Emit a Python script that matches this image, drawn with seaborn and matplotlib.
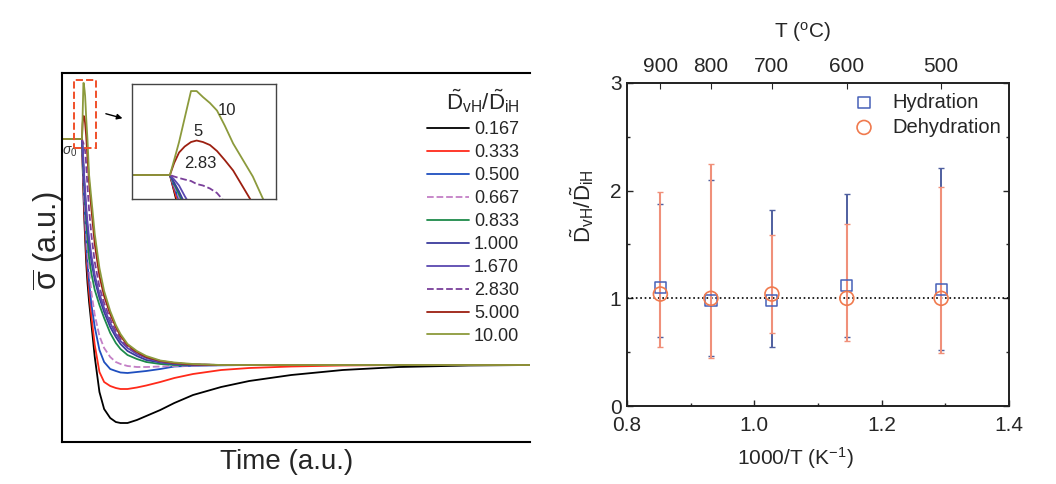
import numpy as np
import pandas as pd
import matplotlib
matplotlib.use("Agg")
import matplotlib.pyplot as plt
import seaborn as sns
from matplotlib.patches import Rectangle

# ---- left panel: simulated conductivity relaxation (arbitrary units) ----
time_au = [0, 4.27, 4.33, 4.40, 4.48, 4.57, 4.65, 4.74, 4.84, 4.94, 5.05, 5.17, 5.31,
           5.45, 5.79, 6.3, 7.0, 8.0, 9.0, 10.3, 11.5, 12.5, 14, 16, 18, 21, 24, 28,
           34, 40, 49, 60, 72, 87, 100]

sig_0167 = [22.6, 22.6, 21.5, 20.2, 18.8, 17.5, 16.2, 15.0, 13.8, 12.7, 11.5, 10.3, 9.2,
            8.2, 6.3, 4.0, 0.8, -2.7, -4.4, -5.3, -5.7, -5.8, -5.8, -5.5, -5.1, -4.5,
            -3.8, -3.0, -2.2, -1.6, -1.0, -0.5, -0.2, -0.05, 0.0]
sig_0333 = [22.6, 22.6, 21.6, 20.5, 19.2, 18.0, 16.8, 15.7, 14.5, 13.5, 12.4, 11.3, 10.2,
            9.3, 7.3, 4.8, 2.0, -0.7, -1.7, -2.1, -2.3, -2.4, -2.4, -2.25, -2.05, -1.7,
            -1.3, -0.9, -0.5, -0.3, -0.15, -0.05, 0.0, 0.0, 0.0]
sig_0500 = [22.6, 22.6, 21.8, 20.9, 19.8, 18.7, 17.6, 16.6, 15.5, 14.5, 13.4, 12.3, 11.2,
            10.2, 8.3, 6.0, 3.8, 1.5, 0.3, -0.4, -0.6, -0.75, -0.8, -0.7, -0.6, -0.4,
            -0.15, -0.08, -0.03, 0.0, 0.0, 0.0, 0.0, 0.0, 0.0]
sig_0667 = [22.6, 22.6, 21.9, 21.1, 20.1, 19.1, 18.1, 17.2, 16.2, 15.3, 14.3, 13.3, 12.2,
            11.3, 9.4, 7.2, 5.0, 2.9, 1.7, 0.8, 0.3, 0.1, -0.1, -0.2, -0.2, -0.15,
            -0.1, -0.05, -0.02, 0.0, 0.0, 0.0, 0.0, 0.0, 0.0]
sig_0833 = [22.6, 22.6, 22.0, 21.3, 20.5, 19.7, 18.9, 18.1, 17.2, 16.4, 15.5, 14.5, 13.5,
            12.7, 10.7, 9.1, 7.5, 6.0, 4.7, 3.2, 2.2, 1.6, 1.0, 0.6, 0.3, 0.1,
            0.0, 0.0, 0.0, 0.0, 0.0, 0.0, 0.0, 0.0, 0.0]
sig_1000 = [22.6, 22.6, 22.1, 21.5, 20.7, 19.9, 19.2, 18.4, 17.6, 16.9, 16.1, 15.3, 14.4,
            13.7, 12.1, 10.3, 8.5, 6.7, 5.3, 3.8, 2.8, 2.1, 1.4, 0.9, 0.5, 0.25,
            0.1, 0.0, 0.0, 0.0, 0.0, 0.0, 0.0, 0.0, 0.0]
sig_1670 = [22.6, 22.6, 22.3, 21.9, 21.2, 20.5, 19.8, 19.0, 18.2, 17.5, 16.7, 15.9, 15.0,
            14.3, 12.7, 10.9, 9.0, 7.1, 5.7, 4.2, 3.1, 2.4, 1.7, 1.1, 0.7, 0.3,
            0.15, 0.05, 0.0, 0.0, 0.0, 0.0, 0.0, 0.0, 0.0]
sig_2830 = [22.6, 22.6, 22.5, 22.4, 22.3, 22.2, 22.0, 21.9, 21.7, 21.4, 20.8, 20.0, 18.9,
            17.8, 15.5, 12.9, 10.3, 7.8, 6.2, 4.6, 3.4, 2.6, 1.8, 1.2, 0.75, 0.4,
            0.2, 0.05, 0.0, 0.0, 0.0, 0.0, 0.0, 0.0, 0.0]
sig_5000 = [22.6, 22.6, 23.4, 24.1, 24.5, 24.8, 24.9, 24.8, 24.6, 24.2, 23.6, 22.9, 21.8,
            20.7, 18.3, 15.5, 12.1, 8.9, 6.9, 5.1, 3.8, 2.9, 2.0, 1.3, 0.8, 0.4,
            0.2, 0.05, 0.0, 0.0, 0.0, 0.0, 0.0, 0.0, 0.0]
sig_1000b = [22.6, 22.6, 23.6, 24.8, 26.4, 28.2, 28.2, 27.8, 27.4, 26.9, 25.9, 24.7, 23.6,
             22.5, 19.0, 16.5, 13.1, 9.7, 7.4, 5.4, 4.0, 3.1, 2.1, 1.4, 0.9, 0.45,
             0.25, 0.1, 0.0, 0.0, 0.0, 0.0, 0.0, 0.0, 0.0]

ratio_labels = ["0.167", "0.333", "0.500", "0.667", "0.833",
                "1.000", "1.670", "2.830", "5.000", "10.00"]
curves = [sig_0167, sig_0333, sig_0500, sig_0667, sig_0833,
          sig_1000, sig_1670, sig_2830, sig_5000, sig_1000b]
line_colors = ["#000000", "#ff2a1a", "#1f4fbf", "#c47fc6", "#1e8a4a",
               "#3a3c9c", "#5b48b0", "#7a3f9a", "#9c1f10", "#8c9a3c"]
line_styles = ["-", "-", "-", "--", "-", "-", "-", "--", "-", "-"]

# ---- right panel: ratio vs inverse temperature ----
temps_c = [900, 800, 700, 600, 500]
hyd = [1.10, 0.98, 0.98, 1.12, 1.08]
hyd_lo = [0.64, 0.46, 0.55, 0.64, 0.52]
hyd_hi = [1.88, 2.10, 1.82, 1.97, 2.21]
dehyd = [1.04, 1.00, 1.04, 1.00, 1.00]
dehyd_lo = [0.545, 0.45, 0.675, 0.60, 0.495]
dehyd_hi = [1.99, 2.25, 1.59, 1.69, 2.03]

sns.set_style("ticks")
plt.rcParams["font.family"] = ["Liberation Sans", "DejaVu Sans"]
plt.rcParams["mathtext.fontset"] = "custom"
plt.rcParams["mathtext.rm"] = "Liberation Sans"
plt.rcParams["mathtext.it"] = "Liberation Sans:italic"
plt.rcParams["mathtext.bf"] = "Liberation Sans:bold"

df = pd.DataFrame({
    "time": np.tile(time_au, len(curves)),
    "sigma": np.concatenate(curves),
    "ratio": np.repeat(ratio_labels, len(time_au)),
})

W, H = 1056, 484
fig = plt.figure(figsize=(W / 100, H / 100), dpi=100)


def px_axes(x0, y0, x1, y1):
    return fig.add_axes([x0 / W, 1 - y1 / H, (x1 - x0) / W, (y1 - y0) / H])


ax = px_axes(62, 73, 530, 442)
ins = px_axes(132, 84, 276, 199)

for target in (ax, ins):
    for lab, col, ls in zip(ratio_labels, line_colors, line_styles):
        sns.lineplot(data=df[df["ratio"] == lab], x="time", y="sigma", ax=target,
                     color=col, linestyle=ls, linewidth=1.3, estimator=None,
                     label=lab if target is ax else None, legend=False)

ax.set_xlim(0, 100)
ax.set_ylim(-7.7, 29.2)
ax.set_xticks([])
ax.set_yticks([])
ax.spines["right"].set_visible(False)
for s in ["left", "top", "bottom"]:
    ax.spines[s].set_linewidth(1.5)
    ax.spines[s].set_color("black")
ax.set_xlabel("Time (a.u.)", fontsize=20)
ax.xaxis.set_label_coords(0.479, -0.018)
ax.set_ylabel(r"$\overline{\mathrm{\sigma}}$ (a.u.)", fontsize=22)
ax.yaxis.set_label_coords(0.008, 0.545)

leg = ax.legend(title=r"$\tilde{\mathrm{D}}_{\mathrm{vH}}/\tilde{\mathrm{D}}_{\mathrm{iH}}$",
                loc="upper right", bbox_to_anchor=(1.012, 1.005), frameon=False,
                fontsize=13, title_fontsize=16, handlelength=2.3, labelspacing=0.33,
                handletextpad=0.3, alignment="right")

# zoom box, arrow and sigma_0 marker
ax.add_patch(Rectangle((2.56, 21.7), 4.7, 6.8, fill=False, ec="#f0502a",
                       ls="--", lw=1.4, zorder=5))
ax.annotate("", xy=(13.5, 24.6), xytext=(8.8, 25.2),
            arrowprops=dict(arrowstyle="-|>", color="black", lw=1, mutation_scale=8))
ax.text(1.7, 21.3, r"$\sigma_0$", fontsize=10, ha="center", va="center", color="#333333")

ins.set_xlim(3.73, 5.78)
ins.set_ylim(21.0, 28.67)
ins.set_xticks([])
ins.set_yticks([])
ins.set_xlabel("")
ins.set_ylabel("")
for s in ins.spines.values():
    s.set_linewidth(1.0)
    s.set_color("#444444")
ins.text(5.08, 26.9, "10", fontsize=12, ha="center", va="center")
ins.text(4.67, 25.5, "5", fontsize=12, ha="center", va="center")
ins.text(4.70, 23.4, "2.83", fontsize=12, ha="center", va="center")

# ---- right panel ----
bx = px_axes(627, 83, 1009, 406)
inv_t = np.array([1000 / (t + 273.15) for t in temps_c])
hyd_a, dehyd_a = np.array(hyd), np.array(dehyd)

bx.axhline(1, color="black", ls=":", lw=1.2, zorder=1)
bx.errorbar(inv_t, hyd_a, yerr=[hyd_a - np.array(hyd_lo), np.array(hyd_hi) - hyd_a],
            fmt="none", ecolor="#4f5f9f", elinewidth=1.4, capsize=2.5, capthick=1, zorder=2)
bx.errorbar(inv_t, dehyd_a, yerr=[dehyd_a - np.array(dehyd_lo), np.array(dehyd_hi) - dehyd_a],
            fmt="none", ecolor="#f0907a", elinewidth=1.5, capsize=2.5, capthick=1, zorder=3)
sns.scatterplot(x=inv_t, y=hyd_a, marker="s", s=65, facecolor="none",
                edgecolor="#4760b8", linewidth=1.1, label="Hydration", ax=bx, zorder=4)
sns.scatterplot(x=inv_t, y=dehyd_a, marker="o", s=100, facecolor="none",
                edgecolor="#f07a4e", linewidth=1.2, label="Dehydration", ax=bx, zorder=5)

bx.set_xlim(0.8, 1.4)
bx.set_ylim(0, 3)
bx.set_xticks([0.8, 1.0, 1.2, 1.4])
bx.set_xticklabels(["0.8", "1.0", "1.2", "1.4"])
bx.set_xticks([0.9, 1.1, 1.3], minor=True)
bx.set_yticks([0, 1, 2, 3])
bx.set_yticks([0.5, 1.5, 2.5], minor=True)
bx.tick_params(which="both", direction="in", top=True, right=True, labelsize=15, width=1)
bx.tick_params(which="major", length=4)
bx.tick_params(which="minor", length=2.5)
bx.tick_params(axis="x", pad=7)
bx.tick_params(axis="y", pad=4)
for s in bx.spines.values():
    s.set_linewidth(1.2)
    s.set_color("black")
bx.set_xlabel(r"1000/T (K$^{\mathrm{-1}}$)", fontsize=15)
bx.xaxis.set_label_coords(0.44, -0.12)
bx.set_ylabel(r"$\tilde{\mathrm{D}}_{\mathrm{vH}}/\tilde{\mathrm{D}}_{\mathrm{iH}}$", fontsize=16)
bx.yaxis.set_label_coords(-0.082, 0.62)
bx.legend(loc="upper right", bbox_to_anchor=(1.0, 0.995), frameon=False, fontsize=14.5,
          handletextpad=0.4, labelspacing=0.3, borderaxespad=0.0)

tx = bx.twiny()
tx.set_xlim(bx.get_xlim())
tx.set_xticks(inv_t)
tx.set_xticklabels([str(t) for t in temps_c])
tx.tick_params(direction="in", length=4, labelsize=15, pad=5)
tx.set_xlabel(r"T ($^{\mathrm{o}}$C)", fontsize=15)
tx.xaxis.set_label_coords(0.46, 1.14)
for s in tx.spines.values():
    s.set_linewidth(1.2)

fig.savefig("out.png", dpi=100)
